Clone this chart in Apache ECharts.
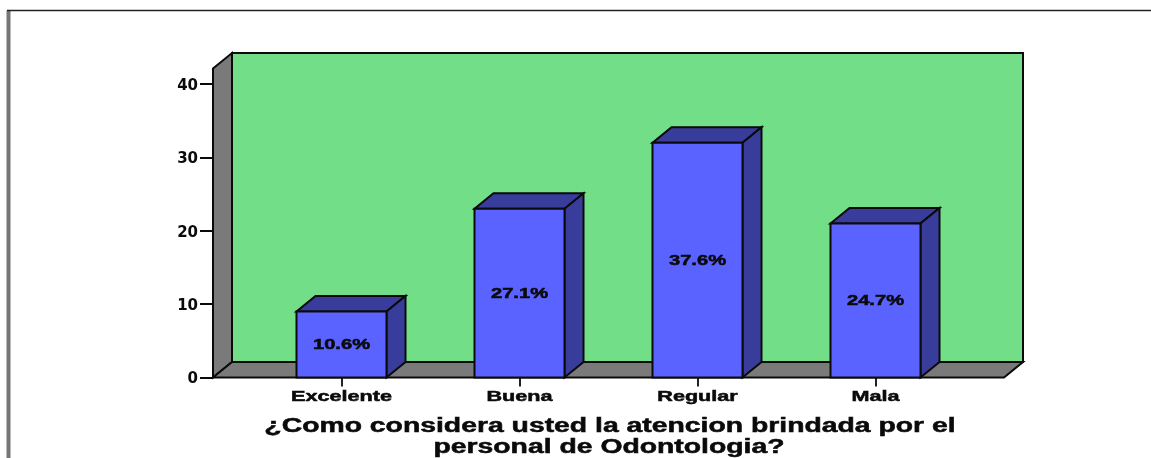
<!DOCTYPE html>
<html>
<head>
<meta charset="utf-8">
<style>html,body{margin:0;padding:0;background:#fff}#chart{width:1151px;height:458px}</style>
<script src="https://cdn.jsdelivr.net/npm/echarts@6/dist/echarts.min.js"></script>
</head>
<body>
<div id="chart"></div>
<script>
const categories = ['Excelente', 'Buena', 'Regular', 'Mala'];
const counts = [9, 23, 32, 21];
const percentLabels = ['10.6%', '27.1%', '37.6%', '24.7%'];
const yTicks = [0, 10, 20, 30, 40];
const axisTitleLines = ['¿Como considera usted la atencion brindada por el', 'personal de Odontologia?'];

// Pseudo-3D box geometry, in pixels
const DEPTH_X = 19;
const DEPTH_Y = -15.5;
const SIDE_PAD = 39.5;   // floor overhang beyond the outer category bands
const BAR_WIDTH = 90;
const FRONT_TOP = 42.1;  // front edge of the side wall, in axis units

const INK = '#0a0a0a';
const font = 'Liberation Sans';

function poly(points, fill) {
  return {
    type: 'polygon',
    shape: { points },
    style: { fill, stroke: INK, lineWidth: 2, lineJoin: 'miter' }
  };
}

function stretchedText(text, x, y, size, scaleX) {
  return {
    type: 'text', x, y, scaleX, scaleY: 1,
    style: {
      text, x: 0, y: 0, fill: INK, stroke: INK, lineWidth: 0.5,
      fontFamily: font, fontWeight: 'bold', fontSize: size,
      textAlign: 'center', textVerticalAlign: 'middle'
    }
  };
}

function renderWalls(params, api) {
  const cs = params.coordSys;
  const x0 = cs.x - SIDE_PAD;
  const x1 = cs.x + cs.width + SIDE_PAD;
  const yBase = api.coord([0, 0])[1];
  const yTop = api.coord([0, FRONT_TOP])[1];
  return {
    type: 'group',
    children: [
      poly([[x0 + DEPTH_X, yTop + DEPTH_Y], [x1 + DEPTH_X, yTop + DEPTH_Y], [x1 + DEPTH_X, yBase + DEPTH_Y], [x0 + DEPTH_X, yBase + DEPTH_Y]], '#72de87'),
      poly([[x0, yTop], [x0 + DEPTH_X, yTop + DEPTH_Y], [x0 + DEPTH_X, yBase + DEPTH_Y], [x0, yBase]], '#7a7a7a'),
      poly([[x0, yBase], [x1, yBase], [x1 + DEPTH_X, yBase + DEPTH_Y], [x0 + DEPTH_X, yBase + DEPTH_Y]], '#7a7a7a')
    ]
  };
}

function renderBar(params, api) {
  const i = api.value(0);
  const v = api.value(1);
  const p = api.coord([i, v]);
  const b = api.coord([i, 0]);
  const l = p[0] - BAR_WIDTH / 2;
  const r = p[0] + BAR_WIDTH / 2;
  return {
    type: 'group',
    children: [
      poly([[l, p[1]], [r, p[1]], [r + DEPTH_X, p[1] + DEPTH_Y], [l + DEPTH_X, p[1] + DEPTH_Y]], '#383c9b'),
      poly([[r, p[1]], [r + DEPTH_X, p[1] + DEPTH_Y], [r + DEPTH_X, b[1] + DEPTH_Y], [r, b[1]]], '#383c9b'),
      poly([[l, p[1]], [r, p[1]], [r, b[1]], [l, b[1]]], '#5a62ff'),
      stretchedText(percentLabels[i], p[0], (p[1] + b[1]) / 2 + 1, 14.5, 1.39),
      stretchedText(categories[i], p[0], b[1] + 19, 14.5, 1.49)
    ]
  };
}

const chart = echarts.init(document.getElementById('chart'));
chart.setOption({
  animation: false,
  backgroundColor: '#fff',
  grid: { left: 252.5, width: 712, top: 84, height: 293.5 },
  xAxis: {
    type: 'category',
    data: categories,
    axisLine: { show: false },
    axisLabel: { show: false },
    axisTick: { show: true, alignWithLabel: true, length: 9, lineStyle: { color: '#222', width: 2 } },
    z: 1
  },
  yAxis: {
    type: 'value',
    min: yTicks[0],
    max: yTicks[yTicks.length - 1],
    interval: 10,
    offset: SIDE_PAD,
    splitLine: { show: false },
    axisLine: { show: true, lineStyle: { color: INK, width: 2 } },
    axisTick: { show: true, length: 13, lineStyle: { color: INK, width: 2 } },
    axisLabel: { margin: 15, verticalAlign: 'top', lineHeight: 4, color: INK, fontFamily: 'DejaVu Sans', fontWeight: 'bold', fontSize: 15 },
    z: 5
  },
  series: [
    { type: 'custom', renderItem: renderWalls, data: [[0, 0]], z: 2, silent: true, clip: false },
    {
      type: 'custom', renderItem: renderBar, z: 3, silent: true, clip: false,
      data: counts.map((c, i) => [i, c]),
      encode: { x: 0, y: 1 }
    }
  ],
  graphic: [
    { type: 'polyline', silent: true, shape: { points: [[8.5, 458], [8.5, 10.5]] },
      style: { fill: null, stroke: '#777', lineWidth: 4 } },
    { type: 'polyline', silent: true, shape: { points: [[7, 10.5], [1151, 10.5]] },
      style: { fill: null, stroke: '#222', lineWidth: 1.6 } },
    stretchedText(axisTitleLines[0], 610, 426, 20, 1.417),
    stretchedText(axisTitleLines[1], 609, 447, 20, 1.417)
  ]
});
</script>
</body>
</html>
